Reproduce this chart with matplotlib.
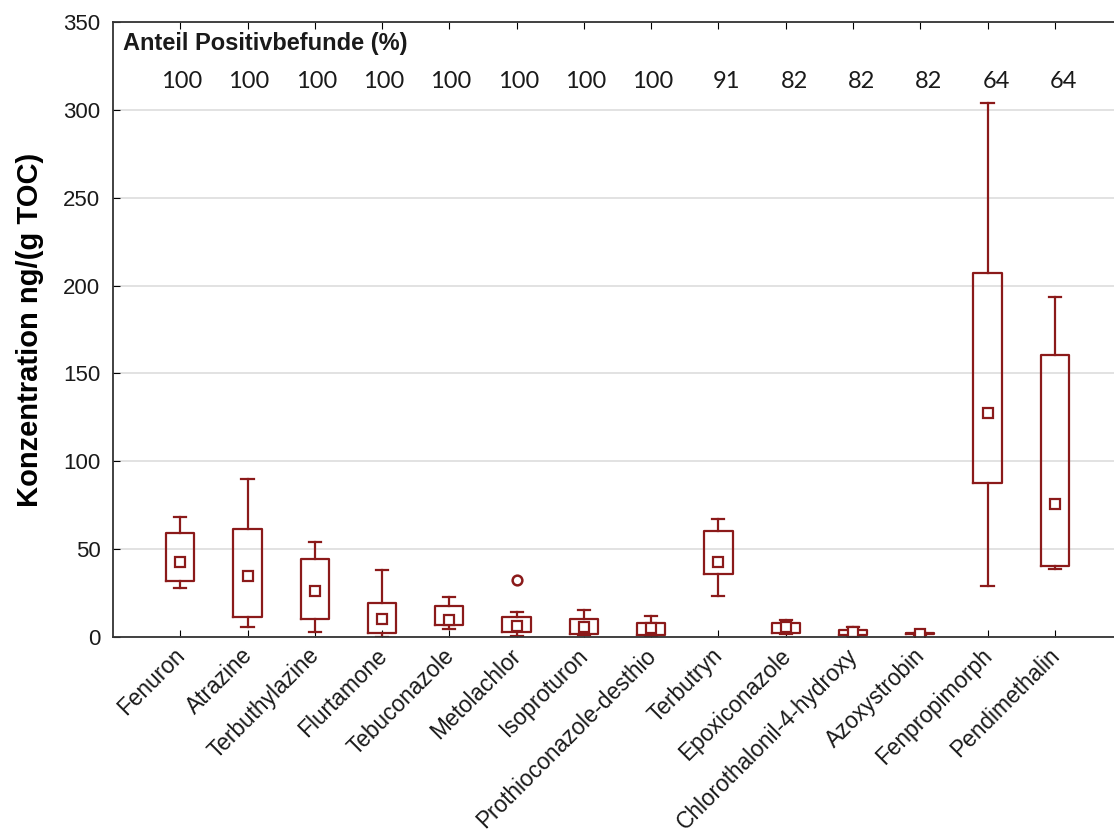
import matplotlib
matplotlib.use("Agg")
import matplotlib.pyplot as plt
import matplotlib.transforms as mtransforms

plt.rcParams['font.family'] = ['Liberation Sans', 'DejaVu Sans']

# Wirkstoffe und Kennwerte der Boxplots (ng/g TOC)
wirkstoffe = ["Fenuron", "Atrazine", "Terbuthylazine", "Flurtamone", "Tebuconazole",
              "Metolachlor", "Isoproturon", "Prothioconazole-desthio", "Terbutryn",
              "Epoxiconazole", "Chlorothalonil-4-hydroxy", "Azoxystrobin",
              "Fenpropimorph", "Pendimethalin"]
whisker_oben = [68.5, 90.0, 53.9, 38.1, 22.6, 14.0, 15.2, 12.0, 67.3, 9.9, 5.9, 2.5, 304.0, 193.5]
q3 = [59.4, 61.3, 44.6, 19.4, 17.6, 11.4, 10.2, 8.0, 60.2, 7.8, 4.0, 2.1, 207.1, 160.3]
mittelwert = [42.9, 34.5, 26.4, 10.4, 9.7, 6.4, 5.9, 4.9, 42.9, 5.9, 2.7, 1.9, 127.3, 75.7]
q1 = [32.0, 11.2, 10.1, 2.5, 6.6, 2.7, 1.9, 1.3, 35.9, 2.3, 1.1, 1.5, 87.4, 40.5]
whisker_unten = [27.9, 5.9, 2.7, 0.3, 4.7, 0.6, 1.1, 0.5, 23.5, 1.7, 0.8, 1.2, 29.1, 38.5]
ausreisser = [[], [], [], [], [], [32.4], [], [], [], [], [], [], [], []]
positivbefunde = ["100", "100", "100", "100", "100", "100", "100", "100",
                  "91", "82", "82", "82", "64", "64"]

rot = "#8b1a1a"
textfarbe = "#1a1a1a"

fig = plt.figure(figsize=(11.14, 8.36), dpi=100)
ax = fig.add_axes([0.1014, 0.238, 0.8986, 0.7357])

stats = []
for i, name in enumerate(wirkstoffe):
    stats.append(dict(label=name, whishi=whisker_oben[i], q3=q3[i], mean=mittelwert[i],
                      med=mittelwert[i], q1=q1[i], whislo=whisker_unten[i],
                      fliers=ausreisser[i]))

pos = list(range(len(wirkstoffe)))
ax.bxp(stats, positions=pos, widths=0.42, capwidths=0.18, showmeans=True,
       manage_ticks=False, patch_artist=False,
       boxprops=dict(color=rot, linewidth=1.6),
       whiskerprops=dict(color=rot, linewidth=1.6),
       capprops=dict(color=rot, linewidth=1.6),
       medianprops=dict(linewidth=0),
       meanprops=dict(marker='s', markerfacecolor='white', markeredgecolor=rot,
                      markersize=7, markeredgewidth=1.6),
       flierprops=dict(marker='o', markerfacecolor='white', markeredgecolor=rot,
                       markersize=7, markeredgewidth=1.8))

ax.set_xlim(-1, 13.88)
ax.set_ylim(0, 350)
ax.set_yticks(range(0, 351, 50))
ax.set_xticks(pos)
ax.tick_params(axis='y', labelsize=16, labelcolor=textfarbe, direction='in', length=5, pad=9)
ax.tick_params(axis='x', direction='in', length=5, top=True, pad=5)
ax.set_xticklabels(wirkstoffe, rotation=45, ha='right', rotation_mode='anchor',
                   fontsize=16.3, color=textfarbe)
# Beschriftungen etwas nach links schieben (nach tick_params, sonst zurückgesetzt)
verschiebung = mtransforms.ScaledTranslation(-7 / 100, 0, fig.dpi_scale_trans)
for lbl in ax.get_xticklabels():
    lbl.set_transform(lbl.get_transform() + verschiebung)
ax.yaxis.grid(True, color='#dddddd', linewidth=1.2)
ax.set_axisbelow(True)
ax.spines['right'].set_visible(False)
for s in ['left', 'bottom', 'top']:
    ax.spines[s].set_linewidth(1.3)
    ax.spines[s].set_color('#333333')

ax.set_ylabel("Konzentration ng/(g TOC)", fontsize=21, fontweight='bold', labelpad=14)

ax.text(-0.85, 338, "Anteil Positivbefunde (%)", fontsize=17, fontweight='bold',
        va='center', ha='left', color=textfarbe)
for i, p in enumerate(positivbefunde):
    ax.text(i + 0.33, 316, p, fontsize=17, ha='right', va='center', color=textfarbe,
            family=['Lato', 'DejaVu Sans'])

fig.savefig("out.png", dpi=100)
